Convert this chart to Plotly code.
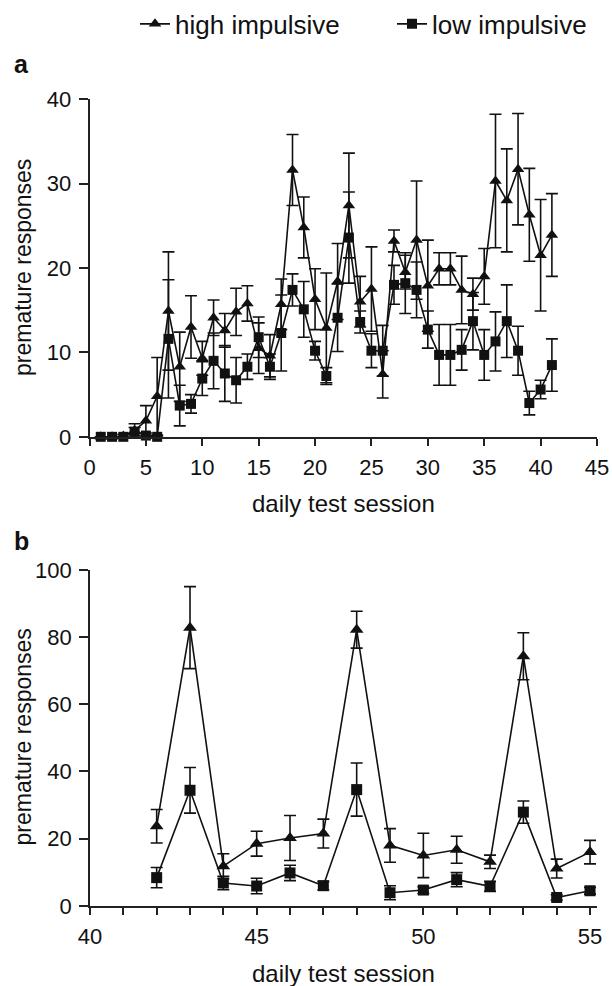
import plotly.graph_objects as go

# ---------------- data ----------------
sessions_a = list(range(1, 42))
high_a = [0, 0, 0.1, 0.75, 1.9, 4.8, 14.9, 8.3, 13.0, 9.3,
          14.1, 12.6, 14.8, 15.8, 10.5, 9.6, 15.7, 31.6, 24.8, 16.3,
          12.9, 18.4, 27.4, 16.0, 17.5, 7.4, 23.2, 19.5, 23.3, 17.9,
          19.9, 19.9, 17.4, 16.9, 19.0, 30.3, 28.0, 31.7, 26.3, 21.5, 23.9]
high_a_err = [0, 0, 0.2, 0.8, 1.8, 4.6, 7.0, 4.1, 3.7, 2.0,
              2.1, 2.0, 2.8, 2.1, 3.0, 2.5, 3.0, 4.2, 3.6, 3.6,
              6.5, 4.5, 6.2, 3.0, 5.0, 2.8, 1.3, 2.0, 7.0, 5.4,
              1.9, 1.9, 4.0, 1.9, 3.3, 7.9, 6.1, 6.6, 5.5, 6.6, 4.9]
low_a = [0, 0, 0, 0.6, 0.15, 0, 11.6, 3.7, 3.9, 6.9,
         9.0, 7.5, 6.7, 8.3, 11.8, 8.3, 12.3, 17.4, 15.1, 10.2,
         7.2, 14.1, 23.6, 13.6, 10.2, 10.2, 18.0, 18.2, 17.4, 12.7,
         9.7, 9.7, 10.3, 13.7, 9.7, 11.3, 13.7, 10.2, 4.0, 5.6, 8.5]
low_a_err = [0, 0, 0, 0.5, 0.3, 0, 7.0, 2.4, 1.1, 2.0,
             3.3, 3.3, 2.7, 1.5, 2.4, 1.5, 4.5, 1.9, 3.3, 1.1,
             1.0, 4.0, 5.4, 1.3, 2.0, 3.0, 2.3, 3.6, 3.3, 2.2,
             3.6, 3.6, 2.4, 3.4, 3.0, 3.5, 4.3, 2.9, 1.4, 1.1, 3.1]

sessions_b = list(range(42, 56))
high_b = [23.7, 82.8, 11.8, 18.5, 20.2, 21.5, 82.2, 18.0, 15.0, 16.7, 13.1, 74.3, 11.1, 16.0]
high_b_err = [5.0, 12.2, 3.7, 3.7, 6.7, 4.3, 5.5, 5.0, 6.6, 4.0, 2.0, 7.0, 2.8, 3.5]
low_b = [8.4, 34.4, 6.8, 5.9, 9.8, 6.0, 34.6, 3.9, 4.7, 7.8, 5.8, 27.9, 2.5, 4.5]
low_b_err = [3.0, 6.8, 2.0, 2.3, 2.3, 1.3, 7.9, 2.1, 1.0, 2.1, 1.5, 3.3, 0.8, 1.0]

xticks_a = list(range(0, 46, 5))
yticks_a = list(range(0, 41, 10))
xticks_b = list(range(40, 56))
xtick_text_b = [str(v) if v % 5 == 0 else "" for v in xticks_b]
yticks_b = list(range(0, 101, 20))

names = ["high impulsive", "low impulsive"]

# ---------------- figure ----------------
W, H = 612, 986
FONT = "Liberation Sans, Arial, Helvetica, sans-serif"
INK = "#111111"


def px_x(p):
    return p / W


def px_y(p):
    return 1 - p / H


def trace(x, y, err, sym, size, name, xa, ya, show, legend="legend"):
    return go.Scatter(
        x=x, y=y, mode="lines+markers", name=name,
        xaxis=xa, yaxis=ya, showlegend=show, legend=legend, cliponaxis=False,
        line=dict(color=INK, width=1.6),
        marker=dict(symbol=sym, size=size, color=INK),
        error_y=dict(type="data", array=err, visible=True,
                     color=INK, thickness=1.6, width=6),
    )


fig = go.Figure()
fig.add_trace(trace(sessions_a, high_a, high_a_err, "triangle-up", 11, names[0], "x", "y", True, "legend"))
fig.add_trace(trace(sessions_a, low_a, low_a_err, "square", 10, names[1], "x", "y", True, "legend2"))
fig.add_trace(trace(sessions_b, high_b, high_b_err, "triangle-up", 12, names[0], "x2", "y2", False))
fig.add_trace(trace(sessions_b, low_b, low_b_err, "square", 11, names[1], "x2", "y2", False))

axis_common = dict(
    showline=True, linecolor="#222222", linewidth=1.8,
    ticks="outside", tickcolor="#222222", tickwidth=1.8,
    showgrid=False, zeroline=False, automargin=False,
    tickfont=dict(family=FONT, size=22, color=INK),
)

legend_common = dict(orientation="h", xanchor="left", yanchor="middle", y=px_y(22),
                     font=dict(family=FONT, size=26, color=INK),
                     bgcolor="rgba(0,0,0,0)")

fig.update_layout(
    width=W, height=H,
    margin=dict(l=0, r=0, t=0, b=0),
    paper_bgcolor="white", plot_bgcolor="white",
    font=dict(family=FONT, color=INK),
    xaxis=dict(axis_common, domain=[px_x(89.5), px_x(597)], range=[0, 45],
               tickvals=xticks_a, ticklen=7, ticklabelstandoff=3, anchor="y"),
    yaxis=dict(axis_common, domain=[px_y(435.7), px_y(97.3)], range=[0, 40],
               tickvals=yticks_a, ticklen=9, ticklabelstandoff=3, anchor="x"),
    xaxis2=dict(axis_common, domain=[px_x(90), px_x(596.7)], range=[40, 55.2],
                tickvals=xticks_b, ticktext=xtick_text_b, ticklen=7, ticklabelstandoff=3,
                anchor="y2"),
    yaxis2=dict(axis_common, domain=[px_y(905.7), px_y(569)], range=[0, 100],
                tickvals=yticks_b, ticklen=9, ticklabelstandoff=3, anchor="x2"),
    legend=dict(legend_common, x=px_x(135)),
    legend2=dict(legend_common, x=px_x(392)),
    annotations=[
        dict(text="<b>a</b>", x=px_x(12), y=px_y(62), xref="paper", yref="paper",
             xanchor="left", yanchor="middle", showarrow=False,
             font=dict(family=FONT, size=25, color=INK)),
        dict(text="<b>b</b>", x=px_x(12), y=px_y(540), xref="paper", yref="paper",
             xanchor="left", yanchor="middle", showarrow=False,
             font=dict(family=FONT, size=25, color=INK)),
        dict(text="premature responses", x=px_x(23), y=px_y(266.5), xref="paper", yref="paper",
             xanchor="center", yanchor="middle", textangle=-90, showarrow=False,
             font=dict(family=FONT, size=23, color=INK)),
        dict(text="premature responses", x=px_x(23), y=px_y(737), xref="paper", yref="paper",
             xanchor="center", yanchor="middle", textangle=-90, showarrow=False,
             font=dict(family=FONT, size=23, color=INK)),
        dict(text="daily test session", x=px_x(343), y=px_y(503), xref="paper", yref="paper",
             xanchor="center", yanchor="middle", showarrow=False,
             font=dict(family=FONT, size=24, color=INK)),
        dict(text="daily test session", x=px_x(343), y=px_y(973), xref="paper", yref="paper",
             xanchor="center", yanchor="middle", showarrow=False,
             font=dict(family=FONT, size=24, color=INK)),
    ],
)

fig.write_html("out.html", config={"displayModeBar": False},
               post_script="document.body.style.margin='0';")
